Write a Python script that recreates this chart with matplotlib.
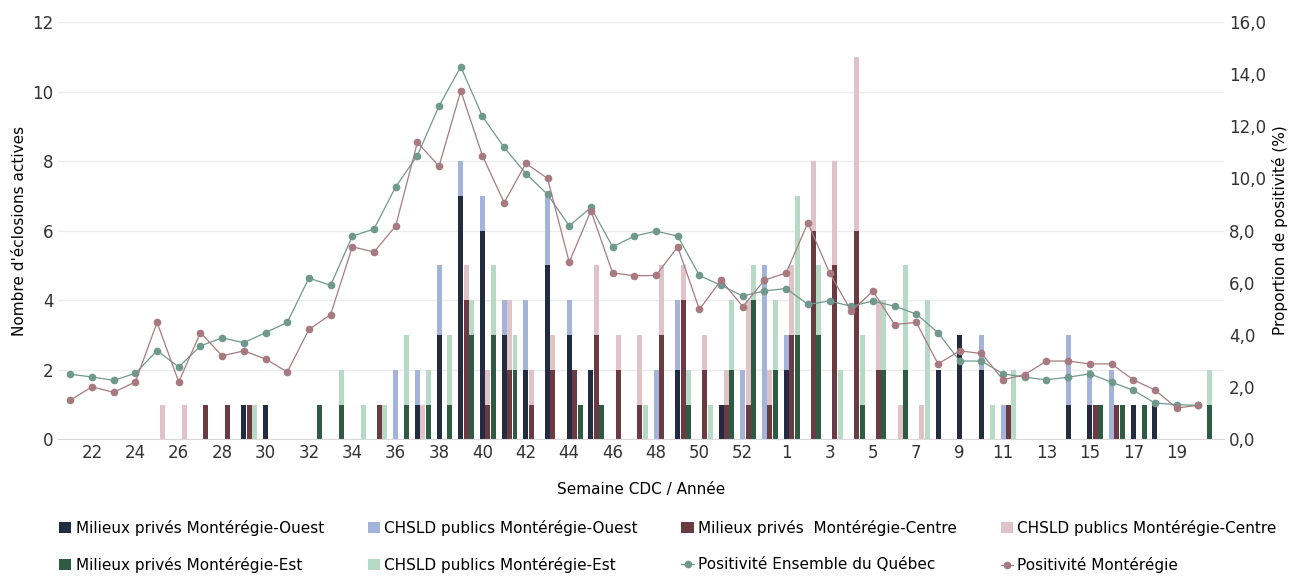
import numpy as np
import matplotlib.pyplot as plt
from matplotlib.ticker import FuncFormatter

# semaines CDC : 21 à 53, puis 1 à 20
weeks = list(range(21, 54)) + list(range(1, 21))

ouest_priv = ([0,0,0,0,0,0,0,0,1,1] + [0,0,0,0,0,0,1,3,7,6] + [3,2,5,3,2,0,0,0,2,0] + [1,0,0]
              + [2,0,0,0,0,0,0,2,3,2] + [0,0,0,1,1,0,1,1,0,0])
ouest_chsld = ([0]*10 + [0,0,0,0,0,2,1,2,1,1] + [1,2,2,1,0,0,0,2,2,0] + [0,2,5]
               + [1,0,0,0,0,0,0,0,0,1] + [1,0,0,2,1,2,0,0,0,0])
centre_priv = ([0,0,0,0,0,0,1,1,1,0] + [0,0,0,0,1,0,0,0,4,1] + [2,1,2,2,3,2,1,3,4,2] + [1,1,1]
               + [3,6,5,6,2,0,0,0,0,0] + [1,0,0,0,1,1,0,0,0,0])
centre_chsld = ([0,0,0,0,1,1,0,0,0,0] + [0,0,0,0,0,0,1,0,1,1] + [2,1,1,0,2,1,2,2,1,1] + [1,3,1]
                + [2,2,3,5,2,1,1,0,0,0] + [0]*10)
est_priv = ([0]*10 + [0,1,1,0,0,1,1,1,3,3] + [2,0,0,1,1,0,0,0,1,0] + [2,4,2]
            + [3,3,0,1,2,2,0,0,0,0] + [0,0,0,0,1,1,1,0,0,1])
est_chsld = ([0,0,0,0,0,0,0,0,1,0] + [0,0,1,1,1,2,1,2,1,2] + [1,0,0,0,0,0,1,0,1,1] + [2,1,2]
             + [4,2,2,2,2,3,4,0,0,1] + [2,0,0,0,0,0,0,0,0,1])

pos_quebec = [2.49,2.39,2.26,2.53,3.40,2.77,3.58,3.89,3.70,4.09,4.48,6.18,5.90,7.79,8.06,9.68,
              10.88,12.78,14.28,12.38,11.19,10.19,9.39,8.18,8.89,7.38,7.79,7.98,7.79,6.28,5.90,
              5.49,5.69,5.78,5.17,5.30,5.10,5.30,5.10,4.80,4.09,3.00,3.00,2.51,2.38,2.28,2.38,
              2.51,2.19,1.88,1.39,1.33,1.30]
pos_monteregie = [1.50,2.01,1.80,2.20,4.48,2.20,4.09,3.20,3.39,3.08,2.58,4.21,4.78,7.38,7.18,8.18,
                  11.38,10.47,13.36,10.87,9.07,10.58,10.00,6.79,8.76,6.38,6.27,6.28,7.38,4.98,6.10,
                  5.09,6.10,6.38,8.30,6.38,4.91,5.68,4.40,4.48,2.89,3.39,3.29,2.28,2.48,3.00,3.00,
                  2.89,2.89,2.28,1.89,1.20,1.30]

c_navy, c_lblue = '#232b40', '#a3b3d9'
c_dred, c_pink = '#6b3a43', '#e0c3c7'
c_dgreen, c_lgreen = '#2f5b45', '#b7dac6'
c_line_q, c_line_m = '#6f998c', '#a77a82'

plt.rcParams['font.family'] = ['DejaVu Sans']
fig = plt.figure(figsize=(12.97, 5.78), dpi=100)
ax = fig.add_axes([0.045, 0.240, 0.899, 0.722])

x = np.arange(len(weeks))
w = 0.23
groups = [(0.0, ouest_priv, ouest_chsld, c_navy, c_lblue),
          (0.25, centre_priv, centre_chsld, c_dred, c_pink),
          (0.5, est_priv, est_chsld, c_dgreen, c_lgreen)]
bars = []
for off, priv, chsld, cp, cc in groups:
    b1 = ax.bar(x + off, priv, w, color=cp, zorder=2)
    b2 = ax.bar(x + off, chsld, w, bottom=priv, color=cc, zorder=2)
    bars.append((b1, b2))

ax.set_ylim(0, 12)
ax.set_yticks(range(0, 13, 2))
ax.set_xlim(-0.55, 53.2)
ax.set_xticks(x[1::2])
ax.set_xticklabels([str(v) for v in weeks[1::2]])
ax.yaxis.grid(True, color='#ececec', lw=1, zorder=0)
ax.set_axisbelow(True)
ax.tick_params(length=0, labelsize=12, colors='#333333')
for s in ['top', 'right', 'left']:
    ax.spines[s].set_visible(False)
ax.spines['bottom'].set_color('#d9d9d9')
ax.set_ylabel("Nombre d'éclosions actives", fontsize=11)
ax.set_xlabel('Semaine CDC / Année', fontsize=11, labelpad=14)

ax2 = ax.twinx()
lq, = ax2.plot(x, pos_quebec, '-o', color=c_line_q, lw=0.9, ms=4.5)
lm, = ax2.plot(x, pos_monteregie, '-o', color=c_line_m, lw=0.9, ms=4.5)
ax2.set_ylim(0, 16)
ax2.set_yticks(range(0, 17, 2))
ax2.yaxis.set_major_formatter(FuncFormatter(lambda v, p: f'{v:.1f}'.replace('.', ',')))
ax2.tick_params(length=0, labelsize=12, colors='#333333')
for s in ax2.spines.values():
    s.set_visible(False)
ax2.set_ylabel('Proportion de positivité (%)', fontsize=11)

handles = [bars[0][0], bars[2][0], bars[0][1], bars[2][1], bars[1][0], lq, bars[1][1], lm]
labels = ['Milieux privés Montérégie-Ouest', 'Milieux privés Montérégie-Est',
          'CHSLD publics Montérégie-Ouest', 'CHSLD publics Montérégie-Est',
          'Milieux privés  Montérégie-Centre', 'Positivité Ensemble du Québec',
          'CHSLD publics Montérégie-Centre', 'Positivité Montérégie']
fig.legend(handles, labels, ncol=4, loc='lower left', bbox_to_anchor=(0.035, -0.015, 0.96, 0.12),
           mode='expand', frameon=False, fontsize=11, handlelength=0.8, handletextpad=0.3,
           columnspacing=1.0, labelspacing=1.4)

fig.savefig('out.png', dpi=100)
